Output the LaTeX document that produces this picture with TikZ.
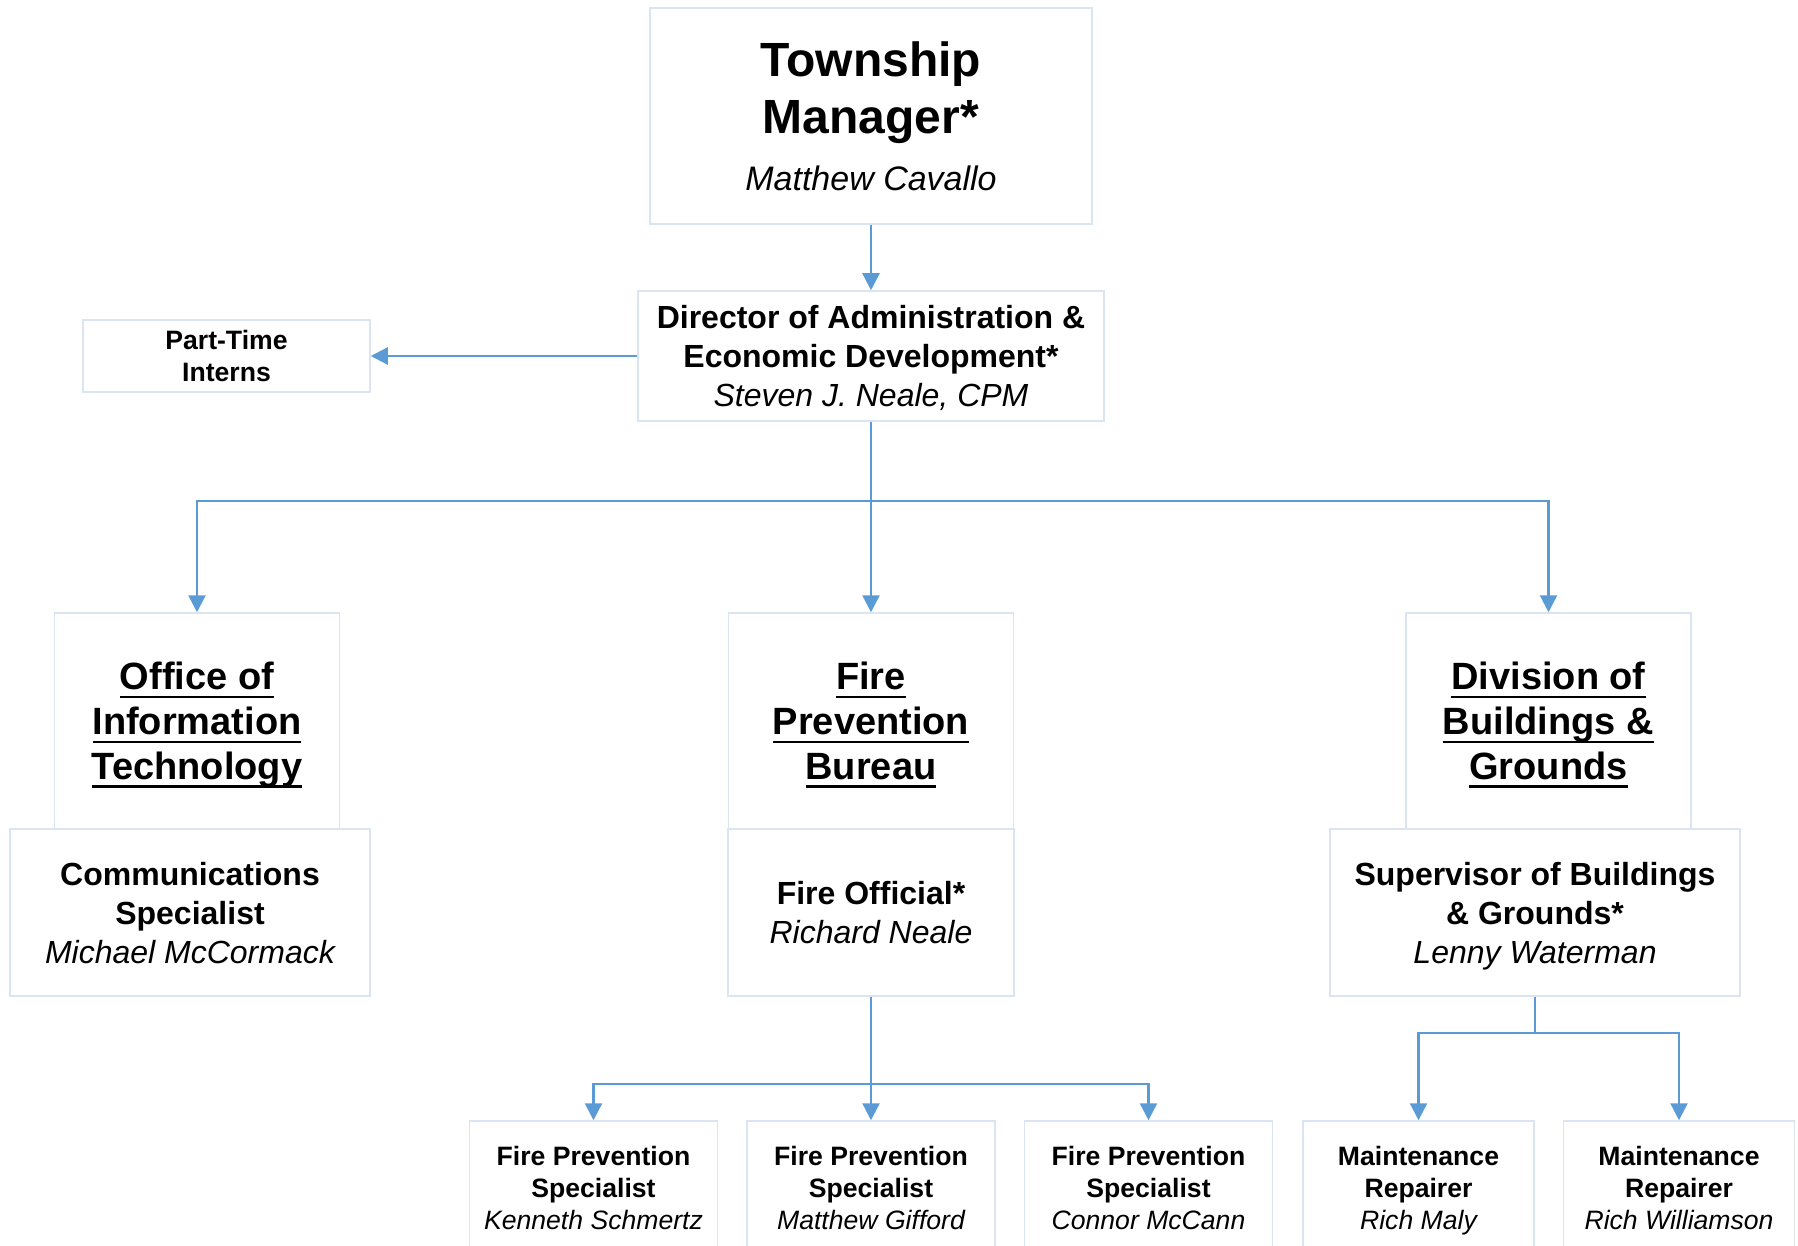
\documentclass[tikz,border=0pt]{standalone}
\usepackage{fontspec}
\setmainfont{Liberation Sans}
\usetikzlibrary{arrows.meta,positioning}
\definecolor{boxline}{RGB}{219,228,243}
\definecolor{linkblue}{RGB}{91,155,213}
\newcommand{\who}[1]{{\mdseries\itshape #1}}
\newcommand{\uln}[1]{\setbox0\hbox{#1}\rlap{\vrule height -2.9pt depth 4.2pt width \wd0}\box0}

\begin{document}
\begin{tikzpicture}
[x=0.5pt, y=-0.5pt, >={Triangle[length=8.5pt,width=8.5pt]},
every node/.style={align=center},
box/.style={draw=boxline, fill=white, line width=0.75pt, inner sep=0pt, text depth=0pt},
post/.style={box, font=\fontsize{16}{19.5}\selectfont\bfseries},
small post/.style={box, font=\fontsize{13.3}{16}\selectfont\bfseries, minimum width=124pt, minimum height=67pt},
unit/.style={box, font=\fontsize{19}{22.4}\selectfont\bfseries, minimum width=142.5pt, minimum height=108pt},
reports/.style={->, draw=linkblue, line width=1.2pt}
]
  \useasboundingbox (0,0) rectangle (1798,1246);

  % top of the chart
  \node[box, minimum width=221pt, minimum height=108pt, font=\fontsize{24}{28.5}\selectfont\bfseries]
        (tm) at (871,116) {Township\\Manager*\\{\fontsize{17}{28.5}\selectfont\who{Matthew Cavallo}}};
  \node[post, minimum width=233pt, minimum height=65pt]
        (dir) at (871,356) {Director of Administration \&\\Economic Development*\\\who{Steven J. Neale, CPM}};
  \node[box, minimum width=143.5pt, minimum height=36pt, font=\fontsize{13.3}{16}\selectfont\bfseries]
        (pti) at (226.5,356) {Part-Time\\Interns};

  % departments
  \node[unit] (oit) at (197,721)    {\uln{Office of}\\\uln{Information}\\\uln{Technology}};
  \node[unit] (fpb) at (871,721)    {\uln{Fire}\\\uln{Prevention}\\\uln{Bureau}};
  \node[unit] (dbg) at (1548.5,721) {\uln{Division of}\\\uln{Buildings \&}\\\uln{Grounds}};

  \node[post, minimum width=180pt, minimum height=83.5pt]
        (comm) at (190,912.5) {Communications\\Specialist\\\who{Michael McCormack}};
  \node[post, minimum width=143pt, minimum height=83.5pt]
        (fo) at (871,912.5) {Fire Official*\\\who{Richard Neale}};
  \node[post, minimum width=205pt, minimum height=83.5pt]
        (sup) at (1535,912.5) {Supervisor of Buildings\\\& Grounds*\\\who{Lenny Waterman}};

  % staff
  \node[small post] (fps2) at (871,1188)       {Fire Prevention\\Specialist\\\who{Matthew Gifford}};
  \node[small post] (fps1) [left=14pt of fps2]  {Fire Prevention\\Specialist\\\who{Kenneth Schmertz}};
  \node[small post] (fps3) [right=14pt of fps2] {Fire Prevention\\Specialist\\\who{Connor McCann}};
  \node[small post, minimum width=115.5pt] (mr1) at (1418.5,1188) {Maintenance\\Repairer\\\who{Rich Maly}};
  \node[small post, minimum width=115.5pt] (mr2) [right=14pt of mr1] {Maintenance\\Repairer\\\who{Rich Williamson}};

  \coordinate (dbus) at (871,501);
  \coordinate (fbus) at (871,1084);
  \coordinate (sbus) at (1535,1033);

  \draw[reports] (tm) -- (dir);
  \draw[reports] (dir) -- (pti);
  \draw[reports] (dir) -- (fpb);
  \draw[reports] (dbus) -| (oit);
  \draw[reports] (dbus) -| (dbg);
  \draw[reports] (fo) -- (fps2);
  \draw[reports] (fbus) -| (fps1);
  \draw[reports] (fbus) -| (fps3);
  \draw[reports, -] (sup) -- (sbus);
  \draw[reports] (sbus) -| (mr1);
  \draw[reports] (sbus) -| (mr2);
\end{tikzpicture}
\end{document}
